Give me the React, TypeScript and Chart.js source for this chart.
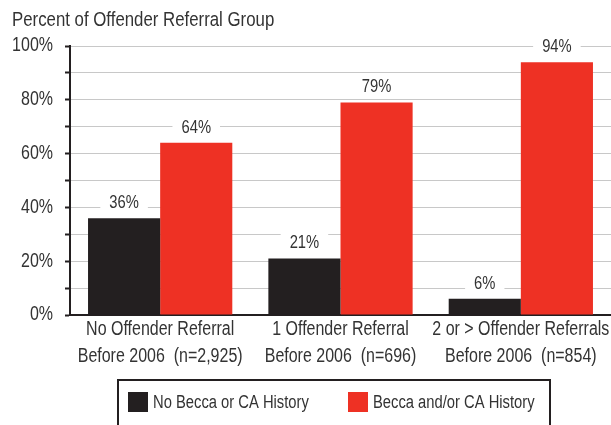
import React, { useEffect, useRef } from "react";
import { Chart, registerables } from "chart.js";

Chart.register(...registerables);

const categories: string[][] = [
  ["No Offender Referral", "Before 2006  (n=2,925)"],
  ["1 Offender Referral", "Before 2006  (n=696)"],
  ["2 or > Offender Referrals", "Before 2006  (n=854)"],
];
const noBecca = [36, 21, 6];
const becca = [64, 79, 94];
const seriesNames = ["No Becca or CA History", "Becca and/or CA History"];
const seriesColors = ["#231f20", "#ee3124"];
const yLabelTicks = [0, 20, 40, 60, 80, 100];
const titleText = "Percent of Offender Referral Group";

const FONT = "'Liberation Sans', Arial, sans-serif";
const SX = 0.82;
const TEXT = "#333333";

function drawText(ctx: any, txt: string, x: number, y: number, size: number, align: string, sx: number = SX) {
  ctx.save();
  ctx.font = `${size}px ${FONT}`;
  ctx.textAlign = align;
  ctx.textBaseline = "middle";
  ctx.fillStyle = TEXT;
  ctx.translate(x, y);
  ctx.scale(sx, 1);
  ctx.fillText(txt, 0, 0);
  ctx.restore();
}

function textWidth(ctx: any, txt: string, size: number) {
  ctx.save();
  ctx.font = `${size}px ${FONT}`;
  const w = ctx.measureText(txt).width * SX;
  ctx.restore();
  return w;
}

const overlayPlugin = {
  id: "overlay",
  afterDatasetsDraw(chart: any) {
    const ctx = chart.ctx;
    chart.data.datasets.forEach((ds: any, di: number) => {
      const meta = chart.getDatasetMeta(di);
      meta.data.forEach((el: any, i: number) => {
        const txt = `${ds.data[i]}%`;
        const w = textWidth(ctx, txt, 18);
        const cy = el.y - 15;
        ctx.save();
        ctx.fillStyle = "#ffffff";
        ctx.fillRect(el.x - w / 2 - 9, cy - 10, w + 18, 20);
        ctx.restore();
        drawText(ctx, txt, el.x, cy, 18, "center");
      });
    });
  },
  afterDraw(chart: any) {
    const ctx = chart.ctx;
    // title
    drawText(ctx, titleText, 12, 20, 20.5, "left");
    // y labels
    const ys = chart.scales.y;
    yLabelTicks.forEach((v) => {
      drawText(ctx, `${v}%`, 53, ys.getPixelForValue(v), 19.5, "right");
    });
    // x labels
    const xs = chart.scales.x;
    categories.forEach((lines, i) => {
      const cx = xs.getPixelForValue(i);
      lines.forEach((ln, li) => drawText(ctx, ln, cx, 330 + li * 27, 19.5, "center"));
    });
    // legend
    ctx.save();
    ctx.strokeStyle = "#231f20";
    ctx.lineWidth = 2;
    ctx.strokeRect(118, 380, 432, 60);
    ctx.restore();
    const itemX = [128, 348];
    chart.data.datasets.forEach((ds: any, di: number) => {
      ctx.save();
      ctx.fillStyle = ds.backgroundColor;
      ctx.fillRect(itemX[di], 392, 20, 20);
      ctx.restore();
      drawText(ctx, ds.label, itemX[di] + 25, 403, 18, "left");
    });
  },
};

export default function App() {
  const ref = useRef<HTMLCanvasElement>(null);
  useEffect(() => {
    document.body.style.margin = "0";
    const chart = new Chart(ref.current!, {
      type: "bar",
      data: {
        labels: categories.map((c) => c.join(" ")),
        datasets: [
          { label: seriesNames[0], data: noBecca, backgroundColor: seriesColors[0] },
          { label: seriesNames[1], data: becca, backgroundColor: seriesColors[1] },
        ],
      },
      options: {
        animation: false,
        responsive: false,
        maintainAspectRatio: false,
        layout: { padding: { top: 46, left: 0, right: 0, bottom: 0 } },
        datasets: { bar: { barPercentage: 1, categoryPercentage: 0.8 } } as any,
        plugins: { legend: { display: false }, tooltip: { enabled: false }, title: { display: false } },
        scales: {
          x: {
            grid: { display: false },
            border: { display: true, color: "#231f20", width: 2 },
            ticks: { display: false },
            afterFit: (s: any) => { s.height = 110; },
          },
          y: {
            min: 0,
            max: 100,
            grid: { color: "#c8c8c8", lineWidth: 1, tickColor: "#231f20", tickWidth: 2, tickLength: 5, drawTicks: true },
            border: { display: true, color: "#231f20", width: 2 },
            ticks: { display: false, stepSize: 10 },
            afterFit: (s: any) => { s.width = 70; },
          },
        },
      },
      plugins: [overlayPlugin],
    });
    return () => chart.destroy();
  }, []);
  return (
    <div style={{ position: "absolute", left: 0, top: 0, width: 611, height: 425 }}>
      <canvas ref={ref} width={611} height={425} style={{ width: 611, height: 425 }} />
    </div>
  );
}
